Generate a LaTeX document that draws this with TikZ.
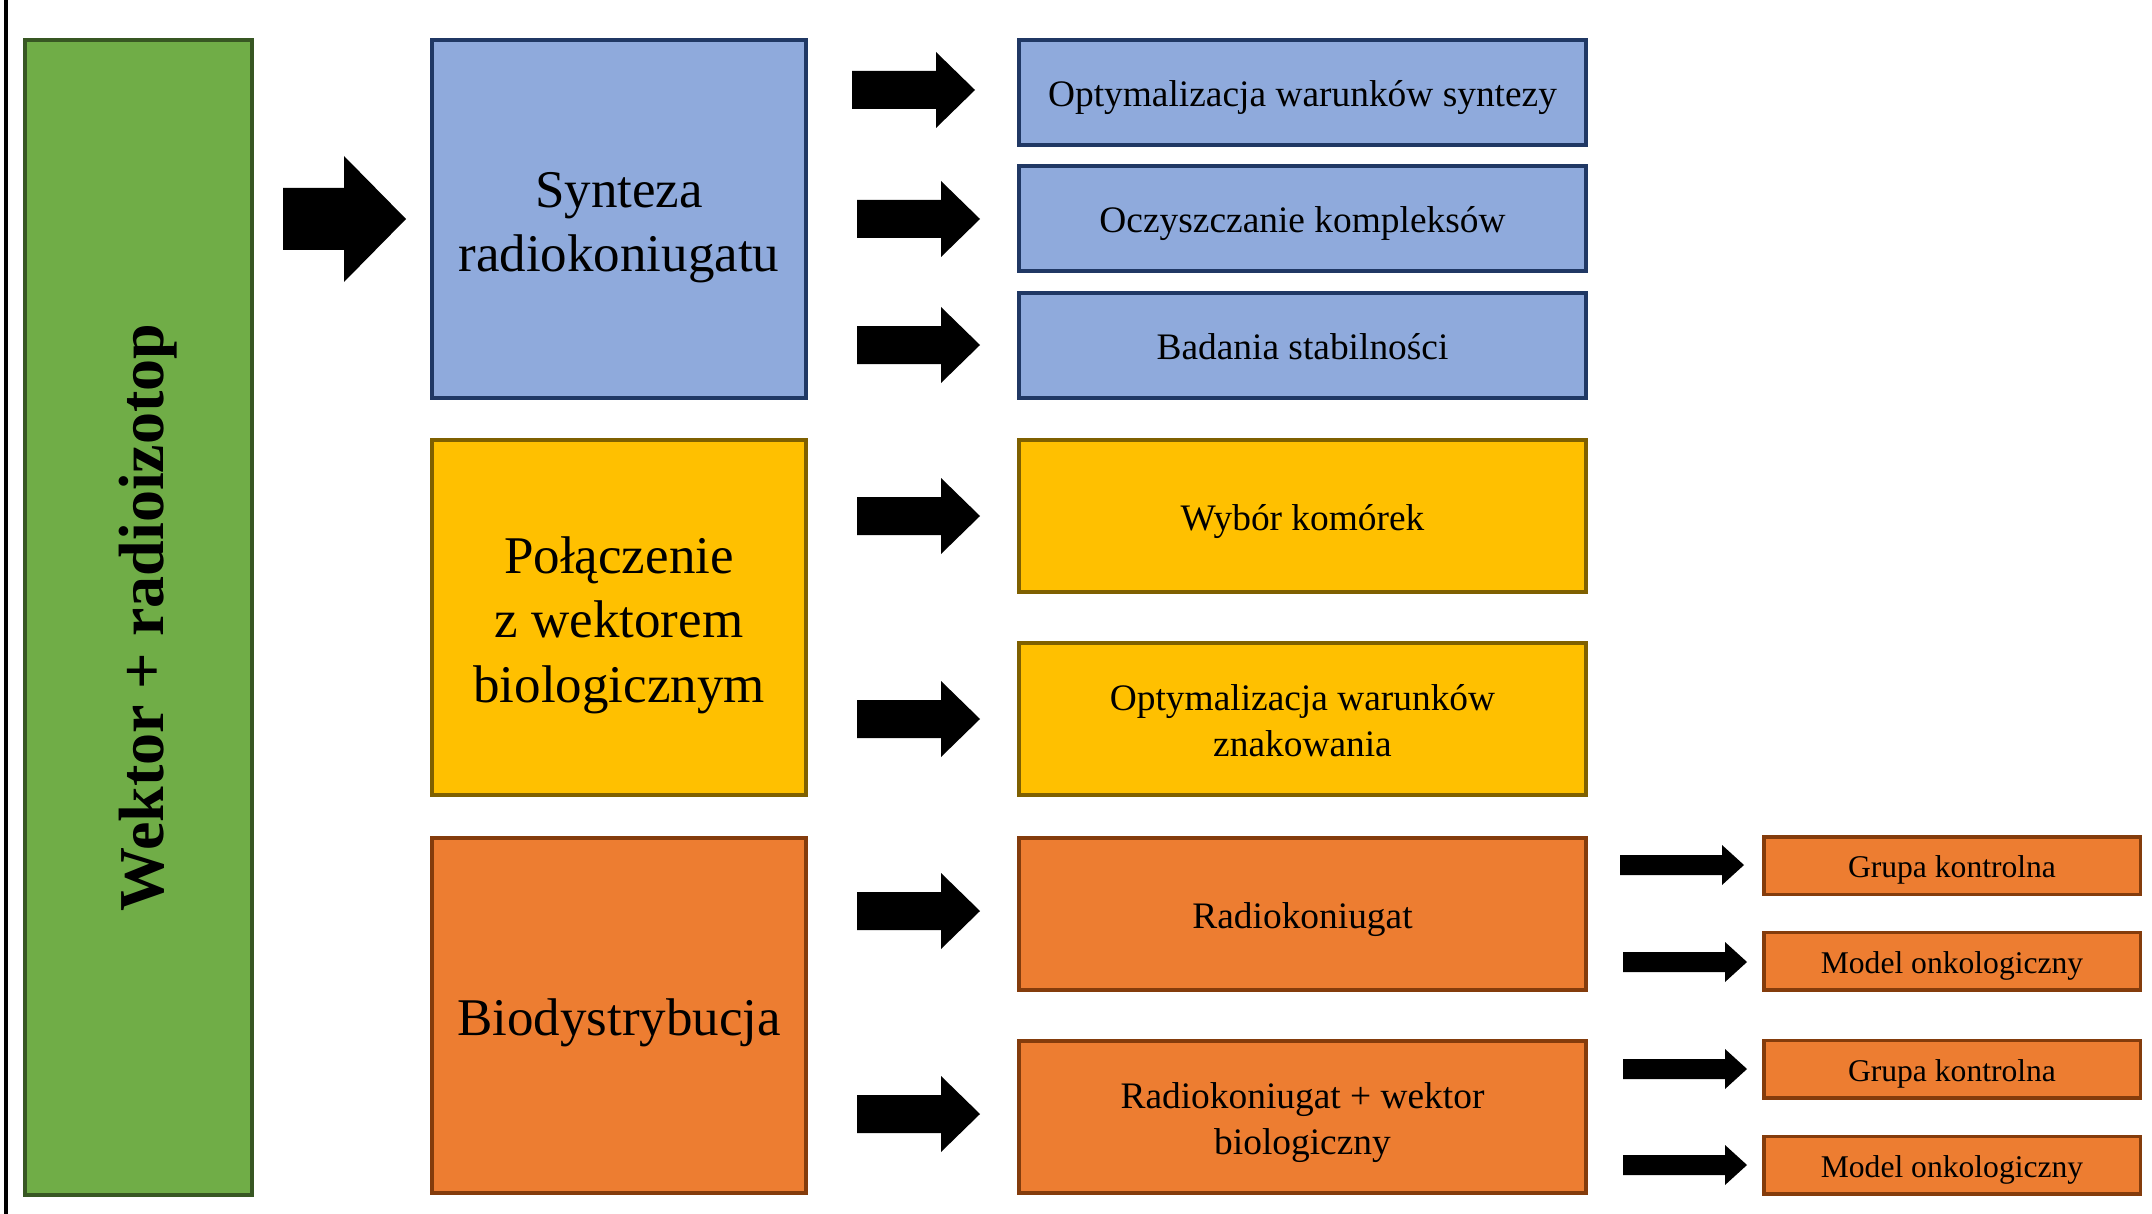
\documentclass[tikz,border=0pt]{standalone}
\usepackage{fontspec}
\setmainfont{Liberation Serif}
\definecolor{GreenF}{HTML}{70AD47}
\definecolor{GreenD}{HTML}{385723}
\definecolor{BlueF}{HTML}{8FAADC}
\definecolor{BlueD}{HTML}{203864}
\definecolor{YelF}{HTML}{FFC000}
\definecolor{YelD}{HTML}{7F6000}
\definecolor{OrF}{HTML}{ED7D31}
\definecolor{OrD}{HTML}{843C0C}
% line strut: height 0.99em, depth 0.22em (Word-like line box)
\newcommand\lnst{\rule[-0.22em]{0pt}{1.21em}}
\newcommand\nolskip{\lineskiplimit=-1000pt\relax\lineskip=0pt\relax}
\newcommand\fatarr[6]{%
  \fill[black] (#1,#2-#5) -- (#1+#3,#2-#5) -- (#1+#3,#2-#6) -- (#1+#3+#4,#2)
    -- (#1+#3,#2+#6) -- (#1+#3,#2+#5) -- (#1,#2+#5) -- cycle;}
\tikzset{
  box/.style={draw, line width=2pt, inner sep=0pt, align=center, text=black},
  gbox/.style={box, fill=GreenF, draw=GreenD},
  bbox/.style={box, fill=BlueF, draw=BlueD},
  ybox/.style={box, fill=YelF, draw=YelD},
  obox/.style={box, fill=OrF, draw=OrD},
  bigbox/.style={minimum width=187pt, font=\fontsize{26.5pt}{32.07pt}\selectfont\nolskip},
  midbox/.style={minimum width=283.5pt, font=\fontsize{18.7pt}{22.63pt}\selectfont\nolskip},
  smlbox/.style={line width=1.75pt, minimum width=188.25pt, minimum height=28.75pt,
    font=\fontsize{15.8pt}{19.12pt}\selectfont\nolskip},
}
\begin{document}
\begin{tikzpicture}[x=0.5pt,y=-0.5pt]
\useasboundingbox (0,0) rectangle (2152,1214);
\coordinate (lt) at (6,0);
\coordinate (lb) at (6,1214);
\draw[line width=2pt] (lt) -- (lb);

\node[gbox, minimum width=113.5pt, minimum height=577.5pt] (green) at (138.5,617.5) {};
\node[rotate=90, inner sep=0pt, font=\fontsize{32pt}{38.7pt}\selectfont\bfseries] (gtext) at (green.center) {\lnst Wektor + radioizotop};

\node[bbox, bigbox, minimum height=179pt] (bigB) at (619,219) {\lnst Synteza\\\lnst radiokoniugatu};
\node[ybox, bigbox, minimum height=177.5pt] (bigY) at (619,617.5) {\lnst Połączenie\\\lnst z wektorem\\\lnst biologicznym};
\node[obox, bigbox, minimum height=177.5pt] (bigO) at (619,1015.5) {\lnst Biodystrybucja};

\node[bbox, midbox, minimum height=52.5pt] (b1) at (1302.5,92.5) {\lnst Optymalizacja warunków syntezy};
\node[bbox, midbox, minimum height=52.5pt] (b2) at (1302.5,218.5) {\lnst Oczyszczanie kompleksów};
\node[bbox, midbox, minimum height=52.5pt] (b3) at (1302.5,345.5) {\lnst Badania stabilności};
\node[ybox, midbox, minimum height=76pt] (y1) at (1302.5,516) {\lnst Wybór komórek};
\node[ybox, midbox, minimum height=76pt] (y2) at (1302.5,719) {\lnst Optymalizacja warunków\\\lnst znakowania};
\node[obox, midbox, minimum height=76pt] (o1) at (1302.5,914) {\lnst Radiokoniugat};
\node[obox, midbox, minimum height=76pt] (o2) at (1302.5,1117) {\lnst Radiokoniugat + wektor\\\lnst biologiczny};

\node[obox, smlbox] (s1) at (1952,865.5) {\lnst Grupa kontrolna};
\node[obox, smlbox] (s2) at (1952,961) {\lnst Model onkologiczny};
\node[obox, smlbox] (s3) at (1952,1069) {\lnst Grupa kontrolna};
\node[obox, smlbox] (s4) at (1952,1165) {\lnst Model onkologiczny};

% block arrows
\fatarr{283}{219}{61}{62}{31}{63}
\fatarr{852}{90}{84}{39}{19}{38}
\fatarr{857}{219}{84}{39}{19}{38}
\fatarr{857}{345}{84}{39}{19}{38}
\fatarr{857}{516}{84}{39}{19}{38}
\fatarr{857}{719}{84}{39}{19}{38}
\fatarr{857}{911}{84}{39}{19}{38}
\fatarr{857}{1114}{84}{39}{19}{38}
\fatarr{1620}{865}{102}{22}{10}{20}
\fatarr{1623}{962}{102}{22}{10}{20}
\fatarr{1623}{1069}{102}{22}{10}{20}
\fatarr{1623}{1165}{102}{22}{10}{20}
\end{tikzpicture}
\end{document}
